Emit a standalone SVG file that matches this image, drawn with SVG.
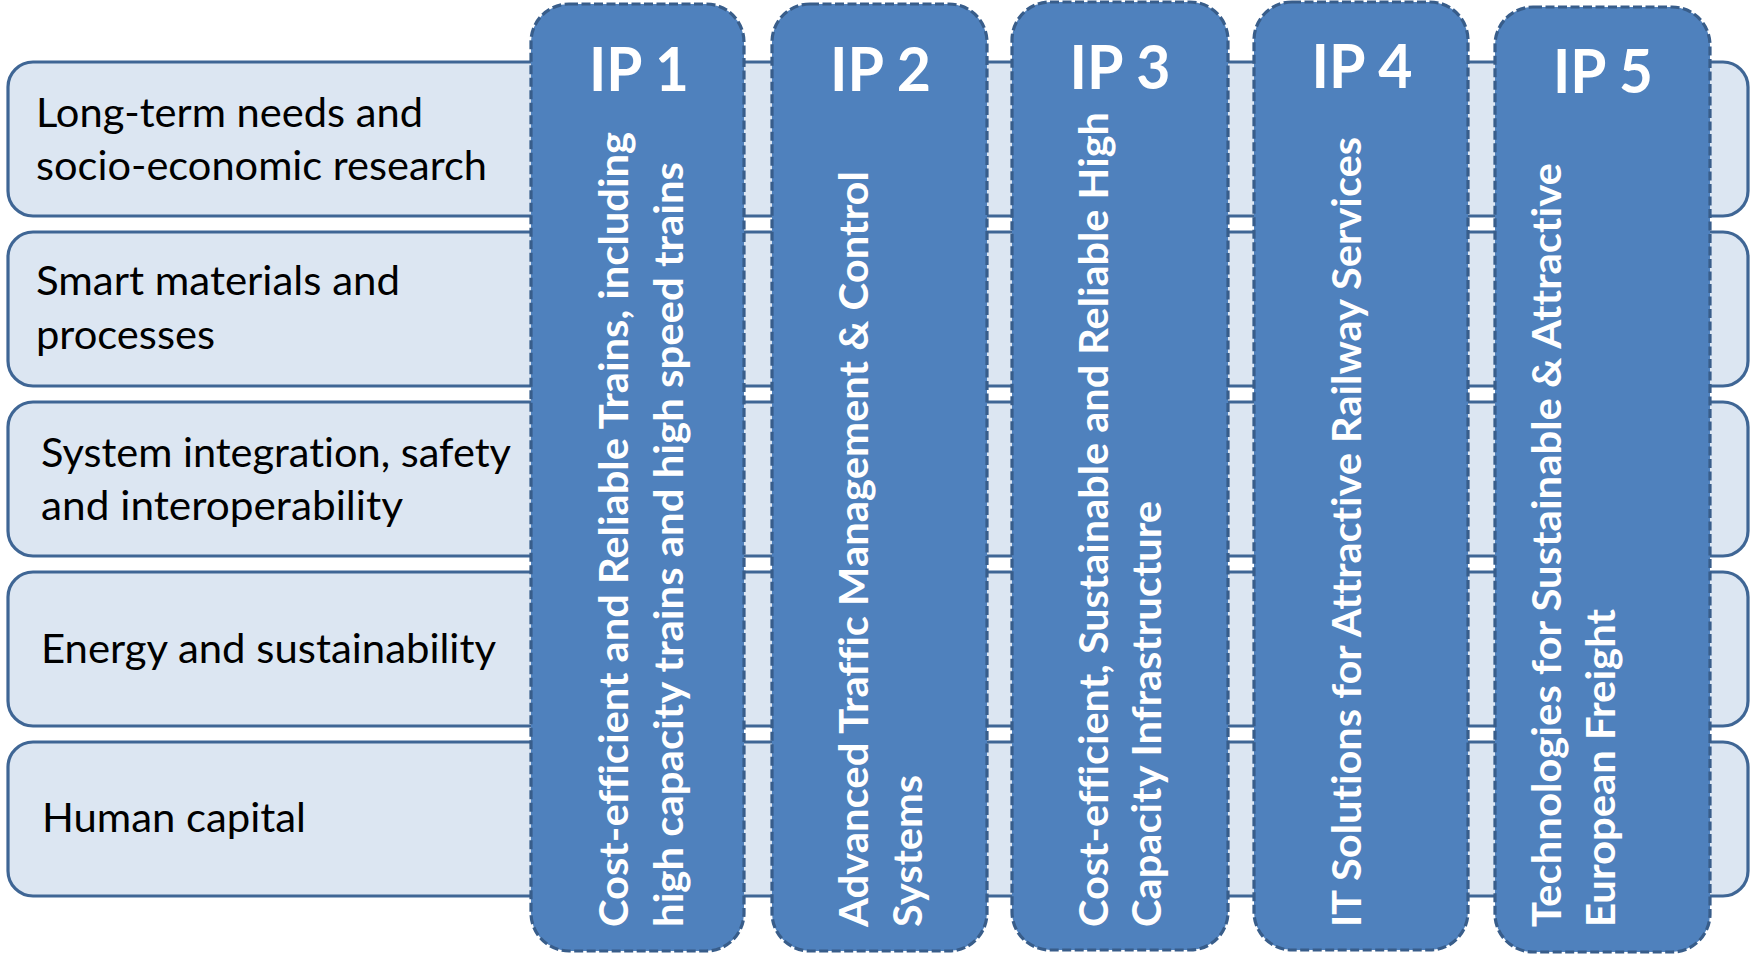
<svg xmlns="http://www.w3.org/2000/svg" width="1752" height="954" viewBox="0 0 1752 954">
<style>
text{font-variant-ligatures:none;font-feature-settings:"liga" 0,"clig" 0}
.row{fill:#dce6f2;stroke:#3f6695;stroke-width:3.2}
.ip{fill:#4f81bd;stroke:#385d8a;stroke-width:3.2;stroke-dasharray:9 3.5}
.lt{font-family:Lato,"Liberation Sans",sans-serif;font-size:41px;fill:#000}
.vt{font-family:Lato,"Liberation Sans",sans-serif;font-size:41px;font-weight:bold;fill:#fff}
.tt{font-family:Lato,"Liberation Sans",sans-serif;font-size:62px;font-weight:bold;fill:#fff;text-anchor:middle}
</style>
<rect width="1752" height="954" fill="#fff"/>
<g id="rows">
<g id="row1"><rect class="row" x="8" y="62" width="1740" height="154" rx="25"/>
<text class="lt" x="36" y="126.5" textLength="387" lengthAdjust="spacingAndGlyphs">Long-term needs and</text>
<text class="lt" x="36" y="180" textLength="451" lengthAdjust="spacingAndGlyphs">socio-economic research</text></g>
<g id="row2"><rect class="row" x="8" y="232" width="1740" height="154" rx="25"/>
<text class="lt" x="36" y="295" textLength="364" lengthAdjust="spacingAndGlyphs">Smart materials and</text>
<text class="lt" x="36" y="348.5" textLength="179" lengthAdjust="spacingAndGlyphs">processes</text></g>
<g id="row3"><rect class="row" x="8" y="402" width="1740" height="154" rx="25"/>
<text class="lt" x="41" y="467" textLength="470" lengthAdjust="spacingAndGlyphs">System integration, safety</text>
<text class="lt" x="41" y="520" textLength="362" lengthAdjust="spacingAndGlyphs">and interoperability</text></g>
<g id="row4"><rect class="row" x="8" y="572" width="1740" height="154" rx="25"/>
<text class="lt" x="41" y="662.5" textLength="455" lengthAdjust="spacingAndGlyphs">Energy and sustainability</text></g>
<g id="row5"><rect class="row" x="8" y="742" width="1740" height="154" rx="25"/>
<text class="lt" x="42" y="832" textLength="264" lengthAdjust="spacingAndGlyphs">Human capital</text></g>
</g>
<g id="connectors"/>
<g id="ip1"><rect class="ip" x="531" y="4" width="213" height="947" rx="38"/>
<text class="tt" x="639" y="91" textLength="100" lengthAdjust="spacingAndGlyphs">IP 1</text>
<text class="vt" transform="translate(628,927) rotate(-90)" textLength="795" lengthAdjust="spacingAndGlyphs">Cost-efficient and Reliable Trains, including</text>
<text class="vt" transform="translate(683,927) rotate(-90)" textLength="765" lengthAdjust="spacingAndGlyphs">high capacity trains and high speed trains</text></g>
<g id="ip2"><rect class="ip" x="772" y="4" width="215" height="947" rx="38"/>
<text class="tt" x="880.5" y="91" textLength="101" lengthAdjust="spacingAndGlyphs">IP 2</text>
<text class="vt" transform="translate(868,927) rotate(-90)" textLength="756" lengthAdjust="spacingAndGlyphs">Advanced Traffic Management &amp; Control</text>
<text class="vt" transform="translate(922,927) rotate(-90)" textLength="152" lengthAdjust="spacingAndGlyphs">Systems</text></g>
<g id="ip3"><rect class="ip" x="1012" y="2" width="216" height="948" rx="38"/>
<text class="tt" x="1120" y="89" textLength="101" lengthAdjust="spacingAndGlyphs">IP 3</text>
<text class="vt" transform="translate(1108,927) rotate(-90)" textLength="815" lengthAdjust="spacingAndGlyphs">Cost-efficient, Sustainable and Reliable High</text>
<text class="vt" transform="translate(1161,927) rotate(-90)" textLength="426" lengthAdjust="spacingAndGlyphs">Capacity Infrastructure</text></g>
<g id="ip4"><rect class="ip" x="1254" y="2" width="214" height="948" rx="38"/>
<text class="tt" x="1362" y="88" textLength="101" lengthAdjust="spacingAndGlyphs">IP 4</text>
<text class="vt" transform="translate(1361,927) rotate(-90)" textLength="790" lengthAdjust="spacingAndGlyphs">IT Solutions for Attractive Railway Services</text></g>
<g id="ip5"><rect class="ip" x="1495" y="7" width="215" height="945" rx="38"/>
<text class="tt" x="1603" y="93" textLength="100" lengthAdjust="spacingAndGlyphs">IP 5</text>
<text class="vt" transform="translate(1561,927) rotate(-90)" textLength="764" lengthAdjust="spacingAndGlyphs">Technologies for Sustainable &amp; Attractive</text>
<text class="vt" transform="translate(1615,927) rotate(-90)" textLength="318" lengthAdjust="spacingAndGlyphs">European Freight</text></g>
</svg>
